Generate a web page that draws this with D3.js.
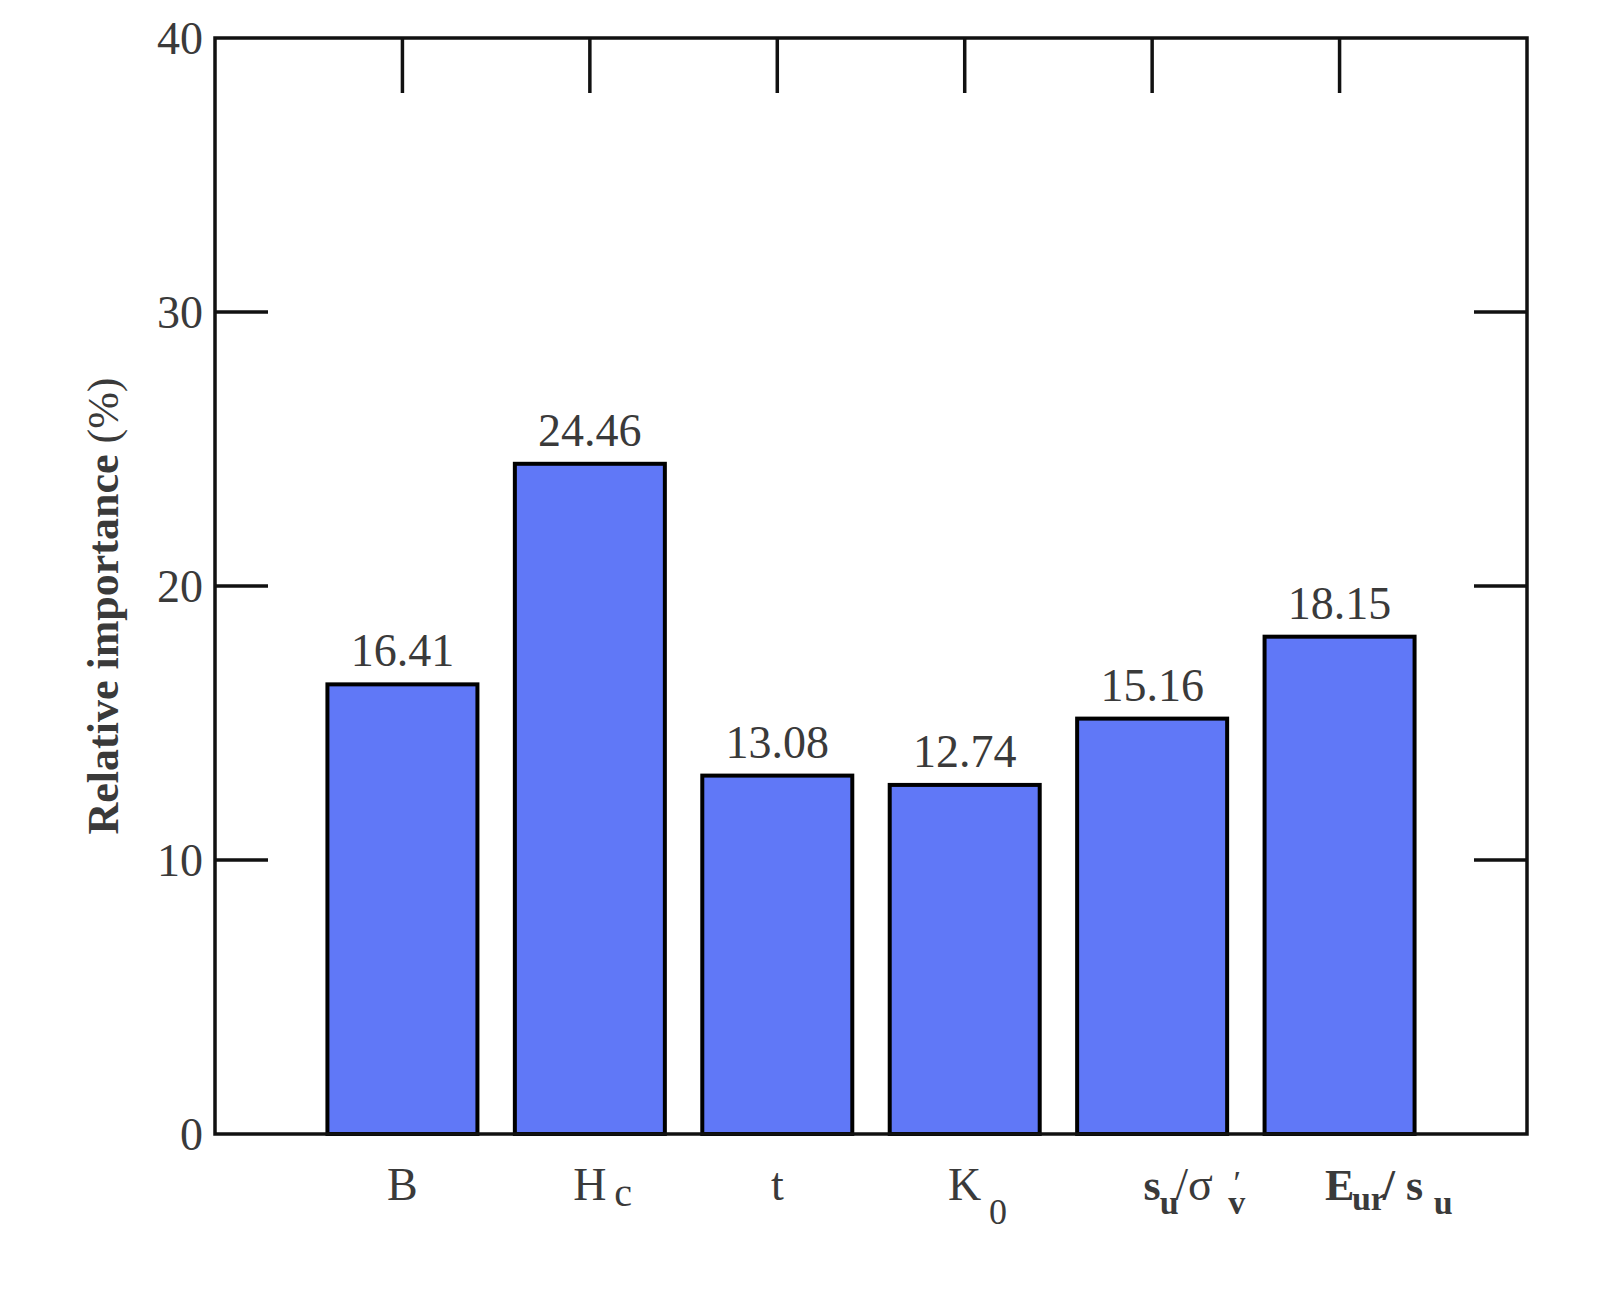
<!DOCTYPE html>
<html><head><meta charset="utf-8">
<script src="https://cdn.jsdelivr.net/npm/d3@7"></script>
<style>body{margin:0;background:#fff}text{font-family:"Liberation Serif","DejaVu Serif",serif;fill:#3a3a3a}</style>
</head><body><div id="the_chart"></div>
<script>
var categories = ["B", "Hc", "t", "K0", "su/sv", "Eur/su"];
var values = [16.41, 24.46, 13.08, 12.74, 15.16, 18.15];
var yTicks = [0, 10, 20, 30, 40];

var w = 1610, h = 1301;
var mLeft = 215, mRight = 1527, mTop = 38, mBottom = 1134;
var svg = d3.select("#the_chart").append("svg").attr("width", w).attr("height", h);

var x = d3.scaleLinear().domain([0, 7]).range([mLeft, mRight]);
var y = d3.scaleLinear().domain([0, 40]).range([mBottom, mTop]);
var bw = 150, tl = 53;

// bars
svg.selectAll("rect.bar").data(values).enter().append("rect")
    .attr("x", function (d, i) { return x(i + 1) - bw / 2; })
    .attr("y", function (d) { return y(d); })
    .attr("width", bw)
    .attr("height", function (d) { return y(0) - y(d); })
    .attr("fill", "#6078f7").attr("stroke", "#000").attr("stroke-width", 4);

svg.selectAll("text.val").data(values).enter().append("text")
    .attr("x", function (d, i) { return x(i + 1); })
    .attr("y", function (d) { return y(d) - 18; })
    .attr("text-anchor", "middle").attr("font-size", 46)
    .text(function (d) { return d.toFixed(2); });

// frame
svg.append("rect").attr("x", mLeft).attr("y", mTop).attr("width", mRight - mLeft).attr("height", mBottom - mTop)
    .attr("fill", "none").attr("stroke", "#111").attr("stroke-width", 3.5);

// y ticks both sides, inward
var g = svg.append("g").attr("stroke", "#111").attr("stroke-width", 3.5);
yTicks.slice(1, 4).forEach(function (t) {
    g.append("line").attr("x1", mLeft).attr("x2", mLeft + tl).attr("y1", y(t)).attr("y2", y(t));
    g.append("line").attr("x1", mRight).attr("x2", mRight - tl).attr("y1", y(t)).attr("y2", y(t));
});
// top ticks at categories
categories.forEach(function (c, i) {
    g.append("line").attr("x1", x(i + 1)).attr("x2", x(i + 1)).attr("y1", mTop).attr("y2", mTop + tl + 2);
});

svg.selectAll("text.yt").data(yTicks).enter().append("text")
    .attr("x", mLeft - 12).attr("y", function (d) { return y(d) + 16; })
    .attr("text-anchor", "end").attr("font-size", 46)
    .text(function (d) { return d; });

svg.append("text").attr("transform", "translate(118," + ((mTop + mBottom) / 2 + 20) + ") rotate(-90)")
    .attr("text-anchor", "middle").attr("font-size", 44).attr("font-weight", "bold")
    .html('Relative importance <tspan font-weight="normal">(%)</tspan>');

// x labels: [text, bold, font-size, baseline offset]
var base = 1200;
var labs = [
    [["B", 0, 46, 0]],
    [["H", 0, 46, 0], ["c", 0, 40, 6]],
    [["t", 0, 46, 0]],
    [["K", 0, 46, 0], ["0", 0, 36, 24]],
    [["s", 1, 44, 0], ["u", 1, 34, 14], [" /σ", 0, 46, 0], ["′", 0, 34, -6], ["v", 1, 34, 14]],
    [["E", 1, 44, 0], ["ur", 1, 34, 10], ["/ s", 1, 44, 0], ["u", 1, 34, 14]]
];
labs.forEach(function (parts, i) {
    var t = svg.append("text").attr("x", x(i + 1)).attr("y", base)
        .attr("text-anchor", "middle");
    parts.forEach(function (p, j) {
        var s = t.append("tspan").text(p[0]).attr("font-size", p[2]).attr("y", base + p[3]);
        if (p[1]) s.attr("font-weight", "bold");
        if (p[0] === "v") s.attr("dx", -8);
    });
});
</script></body></html>
